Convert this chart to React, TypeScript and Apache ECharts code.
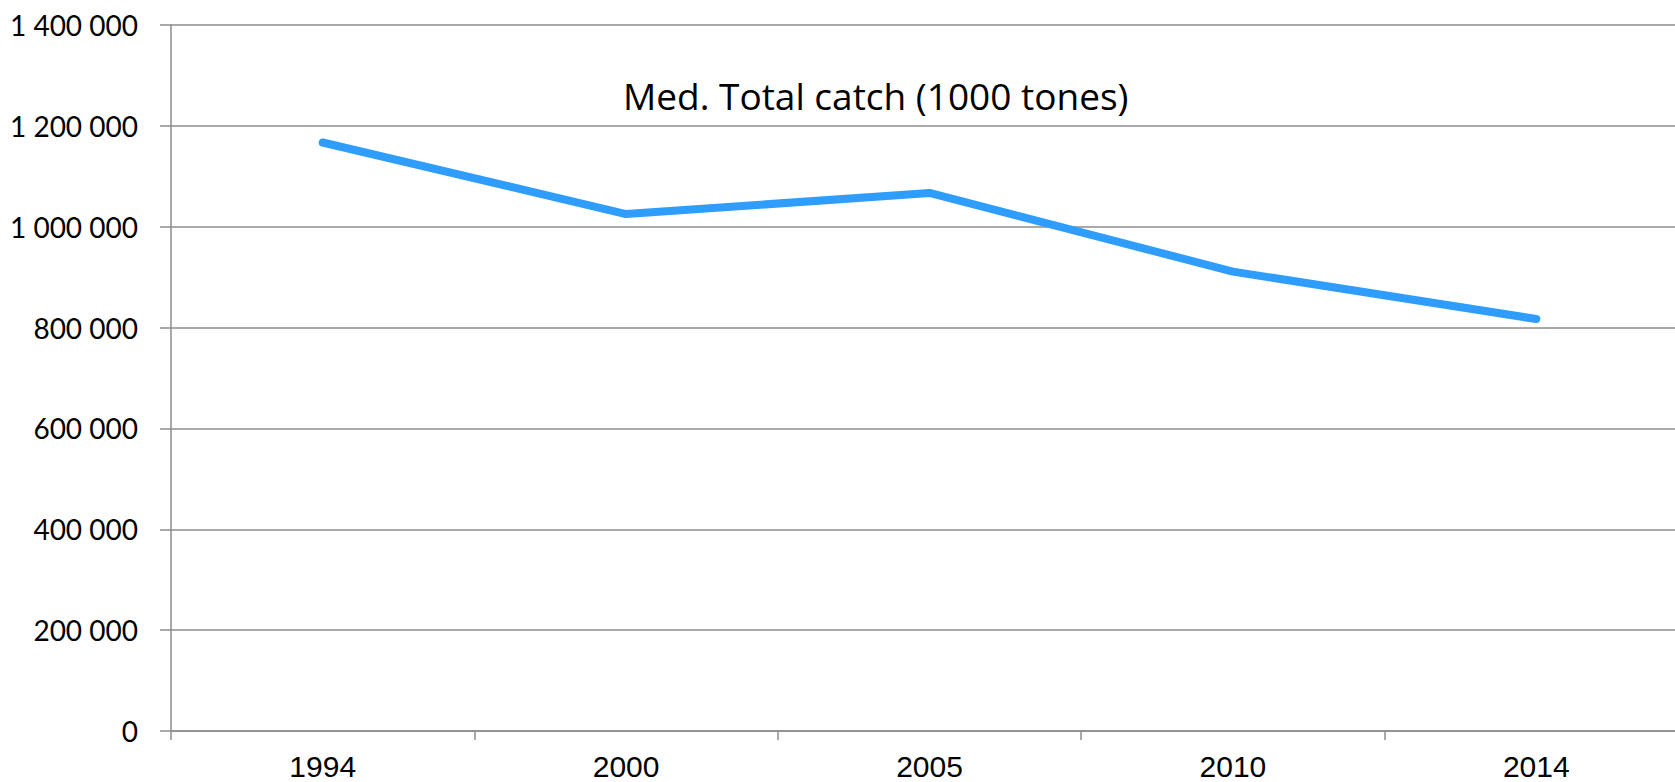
import React, { useEffect, useRef } from "react";
import * as echarts from "echarts";

const years = ["1994", "2000", "2005", "2010", "2014"];
const totalCatch = [1167000, 1025000, 1067000, 911000, 817000];
const yMin = 0;
const yMax = 1400000;
const yStep = 200000;
const titleText = "Med. Total catch (1000 tones)";

const formatThousands = (v: number) =>
  String(v).replace(/\B(?=(\d{3})+(?!\d))/g, " ");

export default function App() {
  const ref = useRef<HTMLDivElement>(null);

  useEffect(() => {
    document.body.style.margin = "0";
    if (!ref.current) return;
    const chart = echarts.init(ref.current, undefined, { renderer: "svg" });
    chart.setOption({
      animation: false,
      backgroundColor: "#ffffff",
      grid: {
        left: 171,
        top: 25,
        bottom: 51,
        width: 1517,
        containLabel: false,
        outerBoundsMode: "none",
      },
      graphic: [
        {
          type: "text",
          x: 623,
          y: 95,
          style: {
            text: titleText,
            fontFamily: "Open Sans",
            fontSize: 37,
            fill: "#000000",
            verticalAlign: "middle",
          },
        },
      ],
      xAxis: {
        type: "category",
        data: years,
        boundaryGap: true,
        axisLine: { lineStyle: { color: "#8c8c8c", width: 1.5 } },
        axisTick: { show: true, length: 9, lineStyle: { color: "#8c8c8c", width: 1.5 } },
        axisLabel: {
          fontFamily: "Liberation Sans",
          fontSize: 30,
          color: "#000000",
          margin: 20,
        },
        splitLine: { show: false },
      },
      yAxis: {
        type: "value",
        min: yMin,
        max: yMax,
        interval: yStep,
        axisLine: { show: true, lineStyle: { color: "#8c8c8c", width: 1.5 } },
        axisTick: { show: true, length: 11, lineStyle: { color: "#8c8c8c", width: 1.5 } },
        axisLabel: {
          fontFamily: "Lato",
          fontSize: 28,
          color: "#000000",
          margin: 33,
          formatter: (v: number) => formatThousands(v),
        },
        splitLine: { show: true, lineStyle: { color: "#8c8c8c", width: 1.5 } },
      },
      series: [
        {
          type: "line",
          data: totalCatch,
          symbol: "none",
          lineStyle: { color: "#2f9dfd", width: 8, cap: "round", join: "round" },
        },
      ],
    });
    return () => chart.dispose();
  }, []);

  return (
    <div
      ref={ref}
      style={{ position: "absolute", left: 0, top: 0, width: 1675, height: 782 }}
    />
  );
}
